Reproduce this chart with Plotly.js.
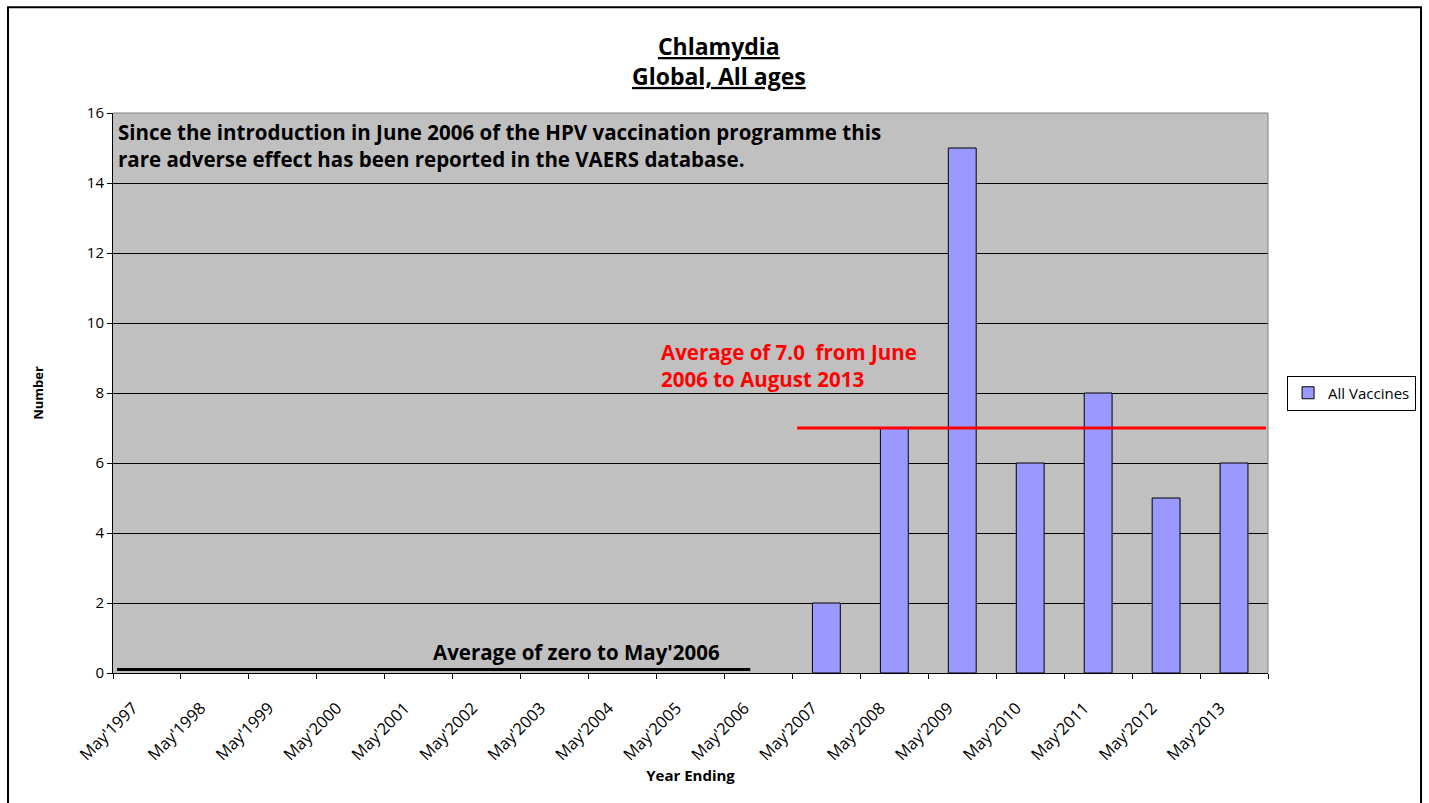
<!DOCTYPE html>
<html>
<head>
<meta charset="utf-8">
<script src="https://cdn.plot.ly/plotly-3.0.1.min.js"></script>
<style>
html,body{margin:0;padding:0;background:#fff;}
#chart{width:1429px;height:803px;}
</style>
</head>
<body>
<div id="chart"></div>
<script>
// ---- data ----
const yearLabels = ["May'1997","May'1998","May'1999","May'2000","May'2001","May'2002","May'2003","May'2004","May'2005","May'2006","May'2007","May'2008","May'2009","May'2010","May'2011","May'2012","May'2013"];
const counts = [0,0,0,0,0,0,0,0,0,0,2,7,15,6,8,5,6];
const seriesName = "All Vaccines";
const avgAfter = 7.0;          // average June 2006 – August 2013
const avgAfterSpan = [10.07, 16.97];
const avgBefore = 0.1;         // "average of zero" line (drawn just above axis)
const avgBeforeSpan = [0.06, 9.38];

const FONT = "Open Sans, Liberation Sans, sans-serif";

const xs = counts.map((_, i) => i + 0.5);
const outlineWidths = counts.map(c => c > 0 ? 1 : 0);
const tickVals = yearLabels.map((_, i) => i).concat([yearLabels.length]);
const tickText = yearLabels.concat([""]);

const traces = [
  {
    type: 'bar', x: xs, y: counts, name: seriesName, width: 0.41, showlegend: false,
    marker: {color: '#9999FF', line: {color: '#000', width: outlineWidths}},
    hoverinfo: 'y'
  },
  {
    // legend entry only (same style as the series, outlined)
    type: 'bar', x: [null], y: [null], name: seriesName, showlegend: true,
    marker: {color: '#9999FF', line: {color: '#000', width: 1}}, hoverinfo: 'skip'
  },
  {
    type: 'scatter', mode: 'lines', x: avgAfterSpan, y: [avgAfter, avgAfter],
    line: {color: '#FF0000', width: 3}, showlegend: false, hoverinfo: 'skip'
  },
  {
    type: 'scatter', mode: 'lines', x: avgBeforeSpan, y: [avgBefore, avgBefore],
    line: {color: '#000', width: 3}, showlegend: false, hoverinfo: 'skip'
  }
];

const layout = {
  width: 1429, height: 803,
  margin: {l: 113, r: 161, t: 113, b: 130},
  paper_bgcolor: '#fff', plot_bgcolor: '#C0C0C0',
  font: {family: FONT, color: '#000', size: 13},
  barmode: 'overlay',
  showlegend: true,
  legend: {
    x: 1.0165, y: 0.5, xanchor: 'left', yanchor: 'middle',
    bgcolor: '#fff', bordercolor: '#000', borderwidth: 1,
    itemwidth: 30,
    font: {family: FONT, size: 15}
  },
  xaxis: {
    range: [0, 17], tickmode: 'array', tickvals: tickVals, ticktext: tickText,
    tickangle: -45, ticks: 'outside', ticklen: 5, tickcolor: '#000',
    ticklabelshift: 20, ticklabelstandoff: 13,
    showgrid: false, zeroline: false, showline: true, linecolor: '#000', linewidth: 1,
    tickfont: {family: FONT, size: 16.5},
    title: {text: '<b>Year Ending</b>', font: {family: FONT, size: 15}, standoff: 4}
  },
  yaxis: {
    range: [0, 16], dtick: 2, ticks: 'outside', ticklen: 5, tickcolor: '#000',
    showgrid: true, gridcolor: '#000', gridwidth: 1, zeroline: false,
    showline: true, linecolor: '#000', linewidth: 1,
    tickfont: {family: FONT, size: 15},
    title: {text: '<b>Number</b>', font: {family: FONT, size: 13}, standoff: 40}
  },
  annotations: [
    {xref: 'paper', yref: 'paper', x: 0.525, y: (673 - 61) / 560, xanchor: 'center', yanchor: 'middle',
     text: '<b><u>Chlamydia</u></b><br><b><u>Global, All ages</u></b>', showarrow: false,
     font: {family: FONT, size: 23}, align: 'center'},
    {xref: 'paper', yref: 'paper', x: 0.003, y: (673 - 116) / 560, xanchor: 'left', yanchor: 'top',
     text: '<b>Since the introduction in June 2006 of the HPV vaccination programme this<br>rare adverse effect has been reported in the VAERS database.</b>',
     showarrow: false, align: 'left', font: {family: FONT, size: 20.5}},
    {xref: 'paper', yref: 'paper', x: (659 - 113) / 1155, y: (673 - 336) / 560, xanchor: 'left', yanchor: 'top',
     text: '<b>Average of 7.0  from June<br>2006 to August 2013</b>',
     showarrow: false, align: 'left', font: {family: FONT, size: 20.5, color: '#FF0000'}},
    {xref: 'paper', yref: 'paper', x: (576 - 113) / 1155, y: (673 - 636) / 560, xanchor: 'center', yanchor: 'top',
     text: '<b>Average of zero to May\'2006</b>',
     showarrow: false, font: {family: FONT, size: 20.5}}
  ],
  shapes: [
    {type: 'rect', xref: 'paper', yref: 'paper', x0: -0.0909, x1: 1.1325, y0: -0.26, y1: 1.189,
     line: {color: '#000', width: 2}, fillcolor: 'rgba(0,0,0,0)', layer: 'below'},
    {type: 'line', xref: 'paper', yref: 'paper', x0: 0, x1: 1, y0: 1, y1: 1, line: {color: '#808080', width: 1}},
    {type: 'line', xref: 'paper', yref: 'paper', x0: 1, x1: 1, y0: 0, y1: 1, line: {color: '#808080', width: 1}}
  ]
};

Plotly.newPlot('chart', traces, layout, {displayModeBar: false, staticPlot: true});
</script>
</body>
</html>
